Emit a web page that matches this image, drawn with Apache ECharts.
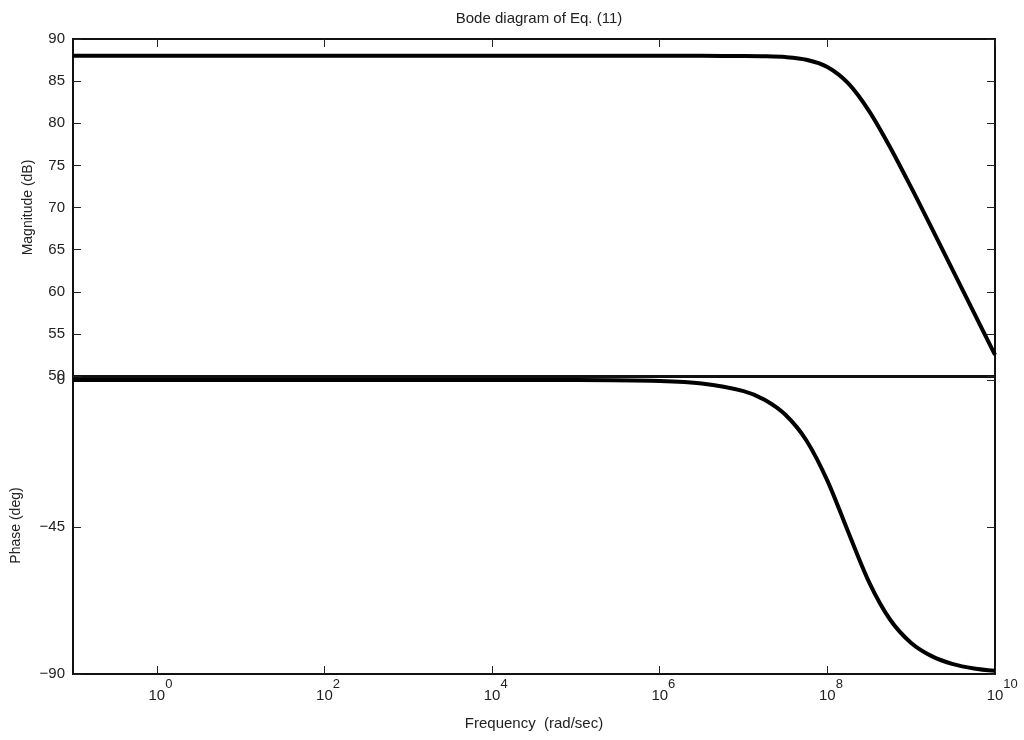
<!DOCTYPE html>
<html>
<head>
<meta charset="utf-8">
<script src="https://cdn.jsdelivr.net/npm/echarts@6/dist/echarts.min.js"></script>
<style>html,body{margin:0;padding:0;background:#fff}#c{width:1024px;height:740px}</style>
</head>
<body>
<div id="c"></div>
<script>
// frequency as decade exponent: w = 10^freqExp (rad/sec)
const freqExp = [-1,0,1,2,3,4,5,6,6.5,7,7.25,7.5,7.75,8,8.25,8.5,8.75,9,9.25,9.5,9.75,10];
const magnitudeDb = [88,88,88,88,88,88,88,88,88,87.98,87.95,87.85,87.54,86.68,84.73,81.42,77.13,72.38,67.46,62.49,57.5,52.5];
const phaseDeg = [0,0,0,0,0,-0.01,-0.03,-0.34,-1.08,-3.41,-6.05,-10.65,-18.52,-30.8,-46.6,-62.0,-73.4,-80.5,-84.6,-86.96,-88.29,-89.04];
const xTickExps = [0,2,4,6,8,10];
const magTicks = [50,55,60,65,70,75,80,85,90];
const phaseTicks = [-90,-45,0];

const FONT = '"Liberation Sans", Arial, Helvetica, sans-serif';
const chart = echarts.init(document.getElementById('c'), null, {renderer:'canvas'});

const L = 73, R = 1024 - 995;
const tickLine = {color:'#222', width:1};
function xAxisDef(gridIndex, position, showLabel){
  return {
    type:'value', gridIndex, position, min:-1, max:10,
    axisLine:{show:false, onZero:false}, splitLine:{show:false},
    axisTick:{show:true, inside:true, length:8, customValues:xTickExps, lineStyle:tickLine},
    axisLabel:{show:showLabel, customValues:xTickExps, margin:4,
      formatter:(v)=>'{h|'+v+'}{b|10}{e|'+v+'}',
      rich:{
        h:{fontSize:13, fontFamily:FONT, color:'transparent', lineHeight:25, verticalAlign:'top'},
        b:{fontSize:15, fontFamily:FONT, color:'#222', lineHeight:25, verticalAlign:'bottom'},
        e:{fontSize:13, fontFamily:FONT, color:'#222', lineHeight:25, verticalAlign:'top'}
      }},
    name: (gridIndex===1 && position==='bottom') ? 'Frequency  (rad/sec)' : '',
    nameLocation:'middle', nameGap:42,
    nameTextStyle:{fontSize:15, fontFamily:FONT, color:'#222'}
  };
}
function yAxisDef(gridIndex, position, min, max, ticks, name, nameGap){
  const left = position==='left';
  return {
    type:'value', gridIndex, position, min, max,
    axisLine:{show:false, onZero:false}, splitLine:{show:false},
    axisTick:{show:true, inside:true, length:8, customValues:ticks, lineStyle:tickLine},
    axisLabel:{show:left, customValues:ticks, margin:8, fontSize:15, fontFamily:FONT, color:'#222',
      formatter:(v)=> v<0 ? '\u2212'+Math.abs(v) : String(v)},
    name: left ? name : '', nameLocation:'middle', nameGap,
    nameTextStyle:{fontSize:14, fontFamily:FONT, color:'#222'}
  };
}

const option = {
  backgroundColor:'#fff',
  animation:false,
  title:{text:'Bode diagram of Eq. (11)', left:534, textAlign:'center', top:6,
    textStyle:{fontSize:15, fontWeight:'normal', fontFamily:FONT, color:'#222'}},
  grid:[
    {left:L, right:R, top:39, height:337, show:true, borderColor:'#111', borderWidth:2, backgroundColor:'transparent'},
    {left:L, right:R, top:377, height:297, show:true, borderColor:'#111', borderWidth:2, backgroundColor:'transparent'}
  ],
  xAxis:[
    xAxisDef(0,'top',false),
    xAxisDef(1,'bottom',true)
  ],
  yAxis:[
    yAxisDef(0,'left',50,90,magTicks,'Magnitude (dB)',38),
    yAxisDef(0,'right',50,90,magTicks,'',0),
    yAxisDef(1,'left',-90,0.9,phaseTicks,'Phase (deg)',50),
    yAxisDef(1,'right',-90,0.9,phaseTicks,'',0)
  ],
  series:[
    {type:'line', xAxisIndex:0, yAxisIndex:0, data:freqExp.map((f,i)=>[f,magnitudeDb[i]]),
      smooth:0.3, showSymbol:false, lineStyle:{color:'#000', width:4}, clip:true},
    {type:'line', xAxisIndex:1, yAxisIndex:2, data:freqExp.map((f,i)=>[f,phaseDeg[i]]),
      smooth:0.3, showSymbol:false, lineStyle:{color:'#000', width:4}, clip:true}
  ]
};
chart.setOption(option);
</script>
</body>
</html>
